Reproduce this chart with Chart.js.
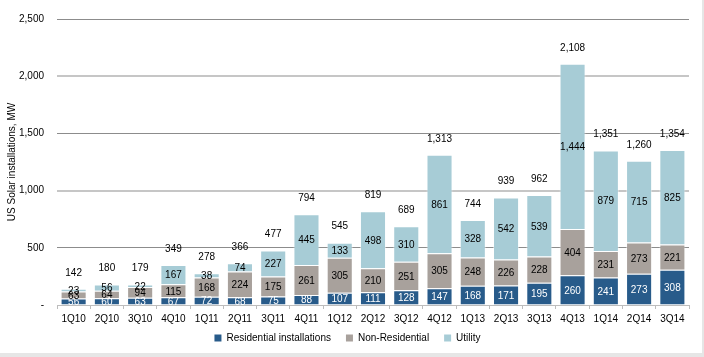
<!DOCTYPE html>
<html>
<head>
<meta charset="utf-8">
<script src="https://cdn.jsdelivr.net/npm/chart.js@4/dist/chart.umd.min.js"></script>
<style>
  html, body { margin: 0; padding: 0; background: #ffffff; }
  #wrap { width: 704px; height: 357px; position: relative; }
</style>
</head>
<body>
<div id="wrap"><canvas id="c" width="704" height="357"></canvas></div>
<script>
const categories = ['1Q10','2Q10','3Q10','4Q10','1Q11','2Q11','3Q11','4Q11','1Q12','2Q12','3Q12','4Q12','1Q13','2Q13','3Q13','4Q13','1Q14','2Q14','3Q14'];
const residential = [56, 60, 63, 67, 72, 68, 75, 88, 107, 111, 128, 147, 168, 171, 195, 260, 241, 273, 308];
const nonResidential = [63, 64, 94, 115, 168, 224, 175, 261, 305, 210, 251, 305, 248, 226, 228, 404, 231, 273, 221];
const utility = [23, 56, 22, 167, 38, 74, 227, 445, 133, 498, 310, 861, 328, 542, 539, 1444, 879, 715, 825];
const totals = [142, 180, 179, 349, 278, 366, 477, 794, 545, 819, 689, 1313, 744, 939, 962, 2108, 1351, 1260, 1354];
const yTicks = [0, 500, 1000, 1500, 2000, 2500];

const FONT = "'Liberation Sans', Arial, sans-serif";
const FS = 10;
const fmt = v => v.toLocaleString('en-US');

const labelsPlugin = {
  id: 'labelsPlugin',
  beforeDraw(chart) {
    const ctx = chart.ctx;
    ctx.save();
    ctx.fillStyle = '#ffffff';
    ctx.fillRect(0, 0, chart.width, chart.height);
    ctx.restore();
  },
  afterLayout(chart) {
    if (chart.legend) {
      chart.legend.top -= 11;
      chart.legend.bottom -= 11;
    }
  },
  afterDatasetsDraw(chart) {
    const ctx = chart.ctx;
    ctx.save();
    ctx.font = FS + 'px ' + FONT;
    ctx.textAlign = 'center';
    ctx.textBaseline = 'middle';
    chart.data.datasets.forEach((ds, di) => {
      const meta = chart.getDatasetMeta(di);
      meta.data.forEach((el, i) => {
        const cy = (el.y + el.base) / 2;
        ctx.fillStyle = di === 0 ? '#ffffff' : '#000000';
        ctx.fillText(fmt(ds.data[i]), el.x, cy + 1);
      });
    });
    const yScale = chart.scales.y;
    const lastMeta = chart.getDatasetMeta(chart.data.datasets.length - 1);
    ctx.fillStyle = '#000000';
    totals.forEach((t, i) => {
      const x = lastMeta.data[i].x;
      const y = yScale.getPixelForValue(t) - 16;
      ctx.fillText(fmt(t), x, y);
    });
    ctx.restore();
  },
  afterDraw(chart) {
    const ctx = chart.ctx;
    ctx.save();
    ctx.fillStyle = '#e6e6e6';
    ctx.fillRect(0, 353, chart.width, 4);
    ctx.fillRect(702, 0, 2, chart.height);
    ctx.restore();
  }
};

const common = { borderWidth: 1, borderColor: 'rgba(255,255,255,0.45)', barPercentage: 0.8, categoryPercentage: 0.98 };

new Chart(document.getElementById('c'), {
  type: 'bar',
  data: {
    labels: categories,
    datasets: [
      Object.assign({ label: 'Residential installations', data: residential, backgroundColor: '#285b8a' }, common),
      Object.assign({ label: 'Non-Residential', data: nonResidential, backgroundColor: '#a8a19c' }, common),
      Object.assign({ label: 'Utility', data: utility, backgroundColor: '#a7ccd6' }, common)
    ]
  },
  options: {
    responsive: false,
    animation: false,
    devicePixelRatio: 1,
    layout: { padding: { left: 6, right: 15, top: 15, bottom: 0 } },
    plugins: {
      tooltip: { enabled: false },
      legend: {
        position: 'bottom',
        maxHeight: 28,
        labels: {
          font: { family: FONT, size: FS },
          color: '#000000',
          boxWidth: 7,
          boxHeight: 7,
          padding: 15,
          generateLabels(chart) {
            return chart.data.datasets.map((ds, i) => ({
              text: ds.label,
              fillStyle: ds.backgroundColor,
              strokeStyle: ds.backgroundColor,
              lineWidth: 0,
              hidden: false,
              datasetIndex: i
            }));
          }
        }
      }
    },
    scales: {
      x: {
        stacked: true,
        grid: { display: true, drawOnChartArea: false, drawTicks: true, tickLength: 4, color: '#bdbdbd', offset: true },
        border: { display: true, color: '#bdbdbd' },
        ticks: { font: { family: FONT, size: FS }, color: '#000000', padding: 4, maxRotation: 0, autoSkip: false }
      },
      y: {
        stacked: true,
        min: 0,
        max: 2500,
        afterFit(scale) { scale.width = 51; },
        afterBuildTicks(scale) { scale.ticks = yTicks.map(v => ({ value: v })); },
        grid: {
          color: c => (c.tick && c.tick.value % 1000 === 0) ? '#c6c6c6' : '#8c8c8c',
          lineWidth: c => (c.tick && c.tick.value % 1000 === 0 && c.tick.value !== 0) ? 2 : 1,
          drawTicks: false
        },
        border: { display: false },
        ticks: {
          font: { family: FONT, size: FS },
          color: '#000000',
          padding: 13,
          callback: v => v === 0 ? '-' : fmt(v)
        },
        title: {
          display: true,
          text: 'US Solar installations, MW',
          font: { family: FONT, size: FS },
          color: '#000000',
          padding: { top: 0, bottom: 6 }
        }
      }
    }
  },
  plugins: [labelsPlugin]
});
</script>
</body>
</html>
